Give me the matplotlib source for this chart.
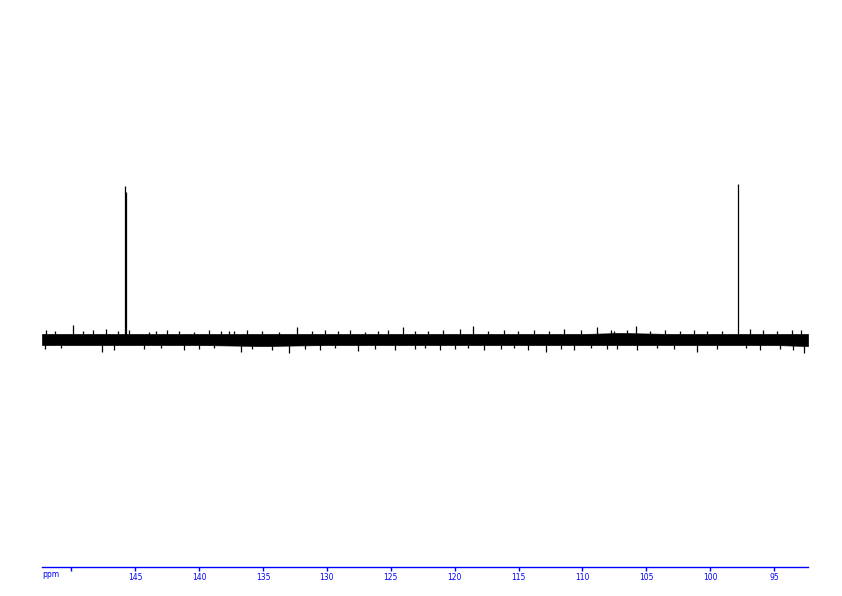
import matplotlib
matplotlib.use("Agg")
import matplotlib.pyplot as plt

# 13C spectrum, intensities in arbitrary units (baseline = 0)
# peaks: position (ppm) and height
peak_ppm = [145.80, 145.76, 97.81]
peak_height = [153, 147, 155]

# dense part of the baseline noise (upper / lower edge)
noise_ppm = [152.3, 149.0, 145.0, 140.0, 135.0, 130.0, 125.0, 120.0, 115.0, 110.0, 107.0, 103.0, 98.0, 95.0, 92.35]
noise_top = [5, 5, 5, 5, 5, 5, 5, 5, 5, 5, 6, 5, 5, 5, 5]
noise_bot = [-6, -6, -6, -6, -7, -6, -6, -6, -6, -6, -6, -6, -6, -6, -7]

# upward noise spikes
up_ppm = [151.96, 151.31, 149.91, 149.10, 148.33, 147.28, 146.38, 145.47, 143.91, 143.39,
          142.48, 141.57, 140.40, 139.23, 138.32, 137.67, 137.28, 136.25, 135.08, 133.78,
          132.37, 131.18, 130.14, 129.10, 128.19, 127.02, 125.98, 125.20, 124.03, 123.12,
          122.09, 120.92, 119.61, 118.58, 117.41, 116.11, 115.07, 113.77, 112.60, 111.43,
          110.13, 108.84, 107.80, 107.53, 106.50, 105.80, 104.68, 103.51, 102.34, 101.30,
          100.26, 99.09, 96.89, 95.84, 94.80, 93.64, 92.86]
up_top = [9, 8, 14, 8, 9, 10, 8, 9, 7, 8,
          9, 8, 7, 9, 8, 8, 8, 9, 8, 7,
          12, 8, 9, 8, 9, 7, 8, 9, 12, 8,
          8, 9, 10, 13, 8, 9, 8, 9, 8, 10,
          9, 12, 9, 8, 9, 13, 8, 9, 8, 9,
          8, 8, 10, 9, 8, 9, 9]

# downward noise spikes
down_ppm = [152.10, 150.80, 147.57, 146.64, 144.30, 143.00, 141.20, 140.00, 138.80, 136.74,
            135.86, 134.30, 133.00, 131.70, 130.53, 129.36, 127.54, 126.24, 124.68, 123.12,
            122.34, 121.17, 120.00, 118.97, 117.67, 116.37, 115.33, 114.29, 112.89, 111.69,
            110.65, 109.36, 108.06, 107.28, 105.72, 104.16, 102.86, 101.05, 99.51, 97.17,
            96.14, 94.55, 93.50, 92.70]
down_bot = [-10, -9, -13, -11, -10, -9, -11, -10, -9, -13,
            -10, -11, -14, -10, -11, -9, -12, -10, -11, -10,
            -9, -11, -10, -9, -11, -10, -9, -11, -13, -10,
            -11, -9, -10, -10, -11, -9, -10, -13, -10, -9,
            -11, -10, -11, -14]

ticks = [150, 145, 140, 135, 130, 125, 120, 115, 110, 105, 100, 95]
tick_labels = ["", "145", "140", "135", "130", "125", "120", "115", "110", "105", "100", "95"]

fig = plt.figure(figsize=(8.42, 5.96), dpi=100)
ax = fig.add_axes([42 / 842, 29 / 596, 766 / 842, 547 / 596])

# baseline noise
ax.fill_between(noise_ppm, noise_bot, noise_top, color="black", linewidth=0.5)
ax.vlines(up_ppm, 0, up_top, color="black", linewidth=0.9)
ax.vlines(down_ppm, down_bot, 0, color="black", linewidth=0.9)

# peaks
ax.vlines(peak_ppm, 0, peak_height, color="black", linewidth=0.9)

ax.set_xlim(152.3, 92.35)
ax.set_ylim(-228, 319)

for s in ["top", "left", "right"]:
    ax.spines[s].set_visible(False)
ax.spines["bottom"].set_color("#0000ff")
ax.spines["bottom"].set_linewidth(1.0)
ax.set_yticks([])
ax.set_xticks(ticks)
ax.set_xticklabels(tick_labels)
ax.tick_params(axis="x", colors="#0000ff", length=3, width=1.0, pad=1.5, labelsize=5.5)
ax.text(0.0, -0.006, "ppm", transform=ax.transAxes, color="#0000ff", fontsize=5.5,
        ha="left", va="top")

fig.savefig("out.png", dpi=100)
